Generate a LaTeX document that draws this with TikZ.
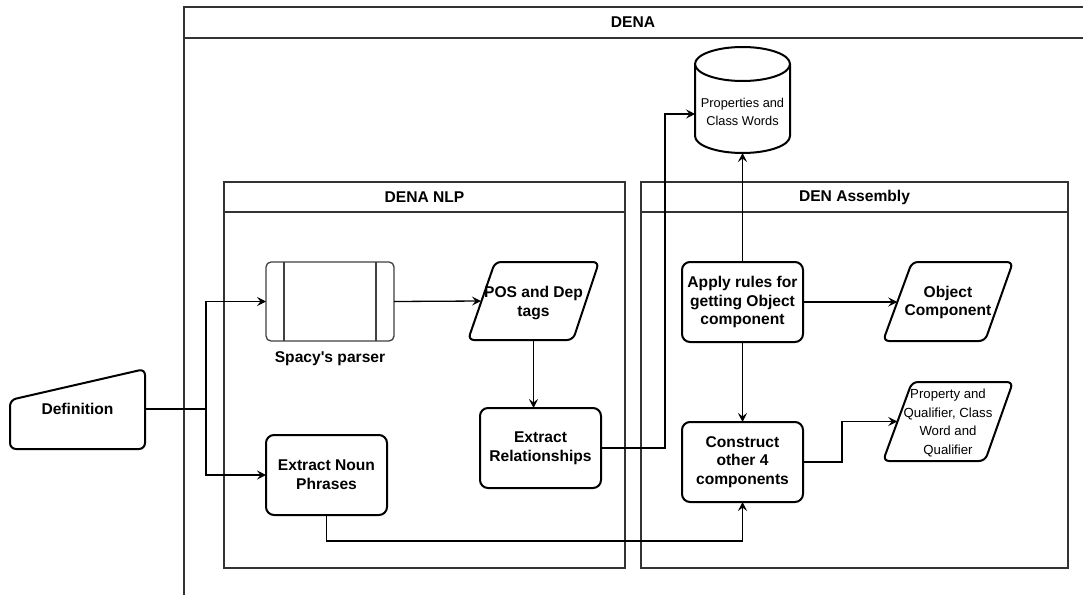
\documentclass[tikz,border=0pt]{standalone}
\usepackage{fontspec}
\setmainfont{Liberation Sans}
\usetikzlibrary{arrows.meta}
\begin{document}
\begin{tikzpicture}[x=1pt,y=-1pt,
  cont/.style={draw=black!80,line width=1.2pt},
  shp/.style={draw=black,line width=2pt,fill=white,line join=round},
  box/.style={shp,rounded corners=8pt,minimum width=121pt,minimum height=80pt},
  lbl/.style={inner sep=0pt,outer sep=0pt,align=center,font=\fontsize{15.6}{18.7}\selectfont\bfseries},
  small/.style={inner sep=0pt,outer sep=0pt,align=center,font=\fontsize{13.2}{18.5}\selectfont},
  ghost/.style={inner sep=0pt,outer sep=0pt},
  conn/.style={draw=black,line width=1.3pt,-{Stealth[length=9pt,width=9pt,inset=3.5pt]}},
]
\useasboundingbox (0,0) rectangle (1083,594);
\fill[white] (0,0) rectangle (1083,594);

% containers
\draw[cont] (184,7) rectangle (1090,600);
\draw[cont] (184,38) -- (1090,38);
\node[lbl] (tdena) at (633,22.5) {DENA};

\draw[cont] (224,182) rectangle (625,568);
\draw[cont] (224,212) -- (625,212);
\node[lbl] (tnlp) at (424.5,197) {DENA NLP};

\draw[cont] (641,182) rectangle (1068,568);
\draw[cont] (641,212) -- (1068,212);
\node[lbl] (tasm) at (854.5,197) {DEN Assembly};

% Definition (manual input)
\draw[shp,rounded corners=6pt] (10,400) -- (145,369) -- (145,449) -- (10,449) -- cycle;
\node[ghost,minimum width=135pt,minimum height=80pt] (def) at (77.5,409) {};
\node[lbl] (deft) at (77.5,409) {Definition};

% Spacy's parser (process)
\node[ghost,draw=black!75,line width=1.3pt,rounded corners=5pt,minimum width=128pt,minimum height=79pt] (spacy) at (330,301.5) {};
\draw[draw=black!75,line width=1.3pt] (284,262) -- (284,341);
\draw[draw=black!75,line width=1.3pt] (376,262) -- (376,341);
\node[lbl] (spl) at (330,359) {Spacy\textquotesingle s parser};

% POS and Dep tags (parallelogram)
\draw[shp,rounded corners=6pt] (495,262) -- (599,262) -- (573,340) -- (468,340) -- cycle;
\node[ghost,minimum width=105pt,minimum height=78pt] (pos) at (533.5,301) {};
\node[lbl] (post) at (533.5,303) {POS and Dep\\tags};

% rounded boxes
\node[box,lbl] (noun) at (326.5,475) {Extract Noun\\Phrases};
\node[box,lbl] (rel) at (540.5,448) {Extract\\Relationships};
\node[box,lbl] (app) at (742.5,302) {Apply rules for\\getting Object\\component};
\node[box,lbl] (con) at (742.5,462) {Construct\\other 4\\components};

% Object Component (parallelogram)
\draw[shp,rounded corners=6pt] (912,262) -- (1013,262) -- (985,341) -- (883,341) -- cycle;
\node[ghost,minimum width=101.5pt,minimum height=79pt] (obj) at (948,301.5) {};
\node[lbl] (objt) at (948,302.5) {Object\\Component};

% Property ... (parallelogram)
\draw[shp,rounded corners=6pt] (912,382) -- (1013,382) -- (985,461) -- (883,461) -- cycle;
\node[ghost,minimum width=101.5pt,minimum height=79pt] (prop) at (948,421.5) {};
\node[small] (propt) at (948,423) {Property and\\Qualifier, Class\\Word and\\Qualifier};

% cylinder
\draw[shp] (695,64) -- (695,136) arc[start angle=180,end angle=360,x radius=47.5pt,y radius=17pt] -- (790,64);
\draw[shp] (742.5,64) ellipse[x radius=47.5pt,y radius=17pt];
\node[ghost,minimum width=95pt,minimum height=106pt] (cyl) at (742.5,100) {};
\node[small,font=\fontsize{12.8}{17.5}\selectfont] (cylt) at (742.5,112) {Properties and\\Class Words};

% connectors
\coordinate (jn) at (206,409);
\draw[conn] (def.east) -- (jn) |- (spacy.west);
\draw[conn] (def.east) -- (jn) |- (noun.west);
\draw[conn] (spacy.east) -- (pos.west);
\draw[conn] (pos.south) -- (pos.south |- rel.north);
\coordinate (rc) at (665,114);
\draw[conn] (rel.east) -| (rc) -- (rc -| cyl.west);
\draw[conn] (app.north) -- (cyl.south);
\draw[conn] (app.east) -- (app.east -| obj.west);
\draw[conn] (app.south) -- (con.north);
\draw[conn] (con.east) -- ++(39,0) |- (prop.west);
\draw[conn] (noun.south) -- ++(0,26) -| (con.south);
\end{tikzpicture}
\end{document}
